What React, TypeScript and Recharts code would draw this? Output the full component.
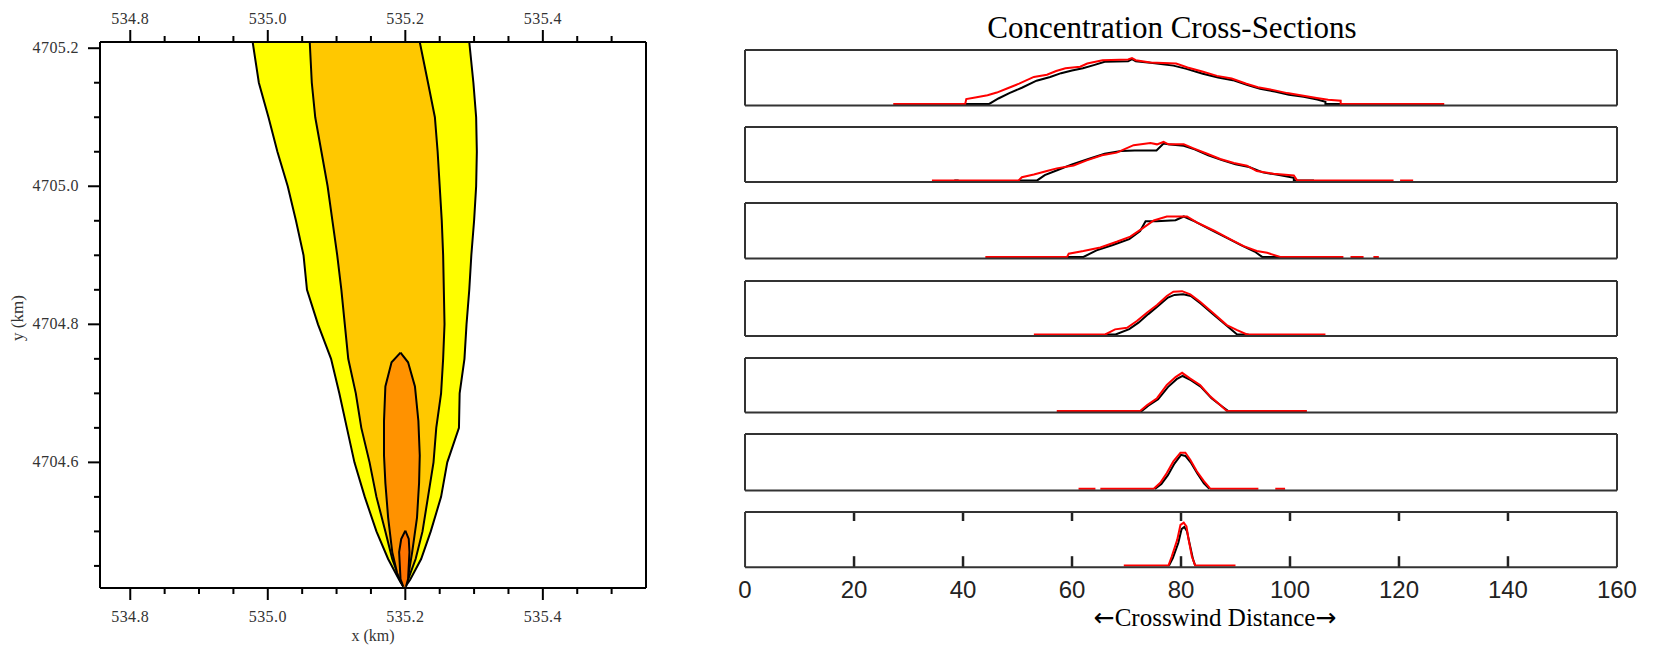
import React from 'react';
import { ComposedChart, Area, XAxis, YAxis, LineChart, Line, ReferenceLine } from 'recharts';

// ---------------- Left panel: plume concentration contours ----------------
const xDomainKm: [number, number] = [534.756, 535.55];
const yDomainKm: [number, number] = [4704.418, 4705.209];
const xMajorTicks = [534.8, 535.0, 535.2, 535.4];
const xMinorTicks = [534.85, 534.9, 534.95, 535.05, 535.1, 535.15, 535.25, 535.3, 535.35, 535.45, 535.5];
const yMajorTicks = [4704.6, 4704.8, 4705.0, 4705.2];
const yMinorTicks = [4704.45, 4704.5, 4704.55, 4704.65, 4704.7, 4704.75, 4704.85, 4704.9, 4704.95, 4705.05, 4705.1, 4705.15];

const plumeY = [4705.209, 4705.15, 4705.1, 4705.05, 4705.0, 4704.95, 4704.9, 4704.85, 4704.8, 4704.75, 4704.7, 4704.65, 4704.6, 4704.55, 4704.5, 4704.46, 4704.43, 4704.42];
const outerLeft = [534.978, 534.987, 535.001, 535.014, 535.029, 535.041, 535.052, 535.057, 535.073, 535.092, 535.104, 535.115, 535.126, 535.141, 535.158, 535.175, 535.191, 535.197];
const outerRight = [535.293, 535.299, 535.303, 535.304, 535.303, 535.3, 535.296, 535.293, 535.289, 535.286, 535.279, 535.278, 535.261, 535.252, 535.237, 535.223, 535.207, 535.2];
const midLeft = [535.061, 535.064, 535.069, 535.078, 535.087, 535.094, 535.101, 535.107, 535.112, 535.117, 535.128, 535.136, 535.148, 535.158, 535.171, 535.181, 535.192, 535.197];
const midRight = [535.221, 535.233, 535.243, 535.247, 535.25, 535.253, 535.255, 535.256, 535.257, 535.255, 535.252, 535.245, 535.241, 535.233, 535.225, 535.215, 535.204, 535.199];
const innerY = [4704.759, 4704.745, 4704.71, 4704.66, 4704.61, 4704.57, 4704.52, 4704.47, 4704.44, 4704.425];
const innerLeft = [535.193, 535.18, 535.171, 535.169, 535.169, 535.171, 535.175, 535.181, 535.188, 535.194];
const innerRight = [535.193, 535.204, 535.214, 535.219, 535.221, 535.22, 535.217, 535.21, 535.205, 535.202];
const coreY = [4704.501, 4704.489, 4704.47, 4704.431, 4704.42];
const coreLeft = [535.2, 535.194, 535.191, 535.193, 535.197];
const coreRight = [535.2, 535.205, 535.206, 535.204, 535.201];

const contourLevels = [
  { name: 'outer', ys: plumeY, left: outerLeft, right: outerRight, color: '#FFFF00' },
  { name: 'middle', ys: plumeY, left: midLeft, right: midRight, color: '#FFC800' },
  { name: 'inner', ys: innerY, left: innerLeft, right: innerRight, color: '#FF9200' },
  { name: 'core', ys: coreY, left: coreLeft, right: coreRight, color: '#FF7400' },
];

// ---------------- Right panels: concentration cross-sections ----------------
const crossTicks = [0, 20, 40, 60, 80, 100, 120, 140, 160];
const crossInnerTicks = [20, 40, 60, 80, 100, 120, 140];

type Pt = [number, number | null];
const p1Red: Pt[] = [[27.2, 0], [40.4, 0], [40.6, 0.09], [42.5, 0.125], [44.5, 0.16], [46.2, 0.21], [48.2, 0.29], [50.3, 0.375], [53.0, 0.5], [55.4, 0.54], [57.1, 0.61], [58.8, 0.66], [61.5, 0.69], [62.8, 0.75], [65.6, 0.81], [70.3, 0.825], [71.0, 0.85], [71.7, 0.81], [74.4, 0.77], [79.1, 0.75], [81.2, 0.675], [83.9, 0.6], [86.6, 0.52], [89.3, 0.47], [92.0, 0.375], [94.1, 0.31], [96.8, 0.26], [99.5, 0.2], [102.2, 0.156], [104.9, 0.11], [107.0, 0.075], [109.3, 0.06], [109.3, 0], [128.3, 0]];
const p1Black: Pt[] = [[40.4, 0], [44.8, 0], [46.5, 0.1], [48.5, 0.2], [50.8, 0.3], [53.5, 0.43], [56.0, 0.5], [58.0, 0.57], [60.0, 0.62], [62.0, 0.66], [64.0, 0.72], [66.0, 0.78], [70.3, 0.79], [71.0, 0.83], [71.7, 0.79], [74.8, 0.76], [78.6, 0.71], [81.0, 0.65], [84.0, 0.56], [86.8, 0.49], [89.5, 0.44], [92.2, 0.35], [94.5, 0.28], [97.2, 0.23], [99.8, 0.17], [102.5, 0.13], [105.0, 0.08], [106.5, 0.04], [106.5, 0], [109.3, 0]];
const p2Red: Pt[] = [[34.3, 0], [50.2, 0], [50.8, 0.06], [53.0, 0.11], [55.4, 0.175], [57.2, 0.225], [60.3, 0.28], [62.7, 0.375], [65.5, 0.47], [68.2, 0.52], [71.3, 0.66], [74.4, 0.7], [75.6, 0.675], [76.8, 0.72], [77.7, 0.675], [80.5, 0.675], [82.3, 0.6], [84.8, 0.5], [87.2, 0.4], [89.7, 0.325], [92.1, 0.275], [93.9, 0.175], [97.0, 0.125], [100.7, 0.094], [101.3, 0], [119.0, 0], [119.6, null], [120.2, 0], [122.6, 0]];
const p2Black: Pt[] = [[38.4, 0], [39.2, 0], [39.6, null], [50.2, 0], [53.6, 0], [55.0, 0.1], [57.5, 0.2], [60.0, 0.3], [63.0, 0.4], [66.0, 0.5], [69.0, 0.55], [71.5, 0.56], [75.5, 0.56], [76.8, 0.69], [78.0, 0.67], [80.5, 0.65], [82.5, 0.58], [85.0, 0.47], [87.5, 0.38], [90.0, 0.3], [92.5, 0.25], [95.0, 0.15], [98.0, 0.1], [100.7, 0.05], [100.7, 0], [104.4, 0]];
const p3Red: Pt[] = [[44.1, 0], [59.1, 0], [59.4, 0.06], [62.1, 0.11], [65.2, 0.175], [68.2, 0.28], [70.7, 0.375], [72.8, 0.52], [75.0, 0.675], [77.4, 0.75], [81.1, 0.75], [82.9, 0.64], [86.0, 0.49], [89.0, 0.33], [91.5, 0.2], [93.9, 0.11], [95.8, 0.075], [98.2, 0], [109.8, 0], [110.4, null], [111.1, 0], [113.5, 0], [114.4, null], [115.3, 0], [116.3, 0]];
const p3Black: Pt[] = [[59.1, 0], [62.1, 0], [64.5, 0.12], [67.5, 0.22], [70.5, 0.33], [72.5, 0.48], [73.5, 0.66], [75.5, 0.66], [79.0, 0.68], [80.5, 0.75], [82.5, 0.66], [85.5, 0.5], [88.5, 0.35], [91.0, 0.22], [93.5, 0.1], [94.9, 0], [98.2, 0]];
const p4Red: Pt[] = [[53.0, 0], [66.1, 0], [67.9, 0.094], [70.1, 0.125], [71.9, 0.25], [73.8, 0.41], [75.6, 0.55], [77.4, 0.72], [78.6, 0.8], [80.2, 0.81], [81.7, 0.75], [83.5, 0.61], [86.0, 0.39], [88.4, 0.175], [90.3, 0.08], [92.1, 0], [106.5, 0]];
const p4Black: Pt[] = [[66.1, 0], [68.0, 0], [70.5, 0.1], [72.2, 0.22], [74.0, 0.38], [75.8, 0.53], [77.6, 0.69], [78.8, 0.74], [80.4, 0.75], [81.8, 0.72], [83.6, 0.58], [86.0, 0.37], [88.4, 0.16], [90.3, 0], [92.4, 0]];
const p5Red: Pt[] = [[57.2, 0], [72.5, 0], [73.8, 0.11], [75.6, 0.24], [77.4, 0.49], [79.0, 0.64], [80.2, 0.72], [81.7, 0.61], [83.5, 0.49], [85.4, 0.27], [87.2, 0.11], [88.4, 0], [103.1, 0]];
const p5Black: Pt[] = [[72.3, 0], [72.8, 0], [74.0, 0.1], [75.8, 0.22], [77.6, 0.45], [79.2, 0.6], [80.3, 0.66], [81.8, 0.58], [83.6, 0.46], [85.6, 0.24], [87.6, 0.08], [88.6, 0]];
const p6Red: Pt[] = [[61.2, 0], [64.3, 0], [64.7, null], [65.2, 0], [75.0, 0], [76.2, 0.11], [77.4, 0.29], [78.6, 0.5], [79.9, 0.66], [80.8, 0.66], [81.7, 0.53], [82.9, 0.32], [84.2, 0.14], [85.4, 0], [94.2, 0], [95.7, null], [97.3, 0], [99.1, 0]];
const p6Black: Pt[] = [[75.2, 0], [76.4, 0.09], [77.6, 0.25], [78.8, 0.46], [80.0, 0.62], [80.8, 0.6], [81.8, 0.48], [83.0, 0.28], [84.2, 0.1], [85.2, 0]];
const p7Red: Pt[] = [[69.5, 0], [77.7, 0], [78.3, 0.17], [79.3, 0.48], [79.9, 0.76], [80.5, 0.8], [81.0, 0.73], [81.4, 0.48], [82.0, 0.17], [82.6, 0], [90.0, 0]];
const p7Black: Pt[] = [[77.8, 0], [78.5, 0.14], [79.5, 0.42], [80.1, 0.68], [80.6, 0.72], [81.1, 0.64], [81.6, 0.4], [82.2, 0.12], [82.6, 0]];

const panelSeries = [
  { red: p1Red, black: p1Black },
  { red: p2Red, black: p2Black },
  { red: p3Red, black: p3Black },
  { red: p4Red, black: p4Black },
  { red: p5Red, black: p5Black },
  { red: p6Red, black: p6Black },
  { red: p7Red, black: p7Black },
];

const panelTop = [49.5, 127, 203, 281, 357.5, 434, 511.5];
const panelBottom = [105, 182, 258.5, 336, 412, 490.5, 566.7];
const panelYDomain: [number, number] = [-0.03, 1];

const toPts = (arr: Pt[]) => arr.map(([x, y]) => ({ x, y }));
const isIn = (v: number, arr: number[]) => arr.some((m) => Math.abs(m - v) < 1e-6);

const serif = "'Liberation Serif', 'Times New Roman', serif";
const sans = "'Liberation Sans', Arial, sans-serif";

const MapTick = (props: any) => {
  const { x, y, payload, orient, majors } = props;
  const v = payload.value as number;
  const major = isIn(v, majors);
  const len = major ? 12 : 6;
  const label = v.toFixed(1);
  const ts = { fontFamily: serif, fontSize: 16, fill: '#333', letterSpacing: 0.4 };
  if (orient === 'left') {
    return (
      <g>
        <line x1={x} y1={y} x2={x - len} y2={y} stroke="#000" strokeWidth={2} />
        {major && <text x={x - 21} y={y} dy={5} textAnchor="end" {...ts}>{label}</text>}
      </g>
    );
  }
  if (orient === 'right') {
    return (
      <g>
        <line x1={x} y1={y} x2={x + len} y2={y} stroke="#000" strokeWidth={2} />
        {major && <text x={x + 21} y={y} dy={5} textAnchor="start" {...ts}>{label}</text>}
      </g>
    );
  }
  if (orient === 'top') {
    return (
      <g>
        <line x1={x} y1={y} x2={x} y2={y - len} stroke="#000" strokeWidth={2} />
        {major && <text x={x} y={y - 18} textAnchor="middle" {...ts}>{label}</text>}
      </g>
    );
  }
  return (
    <g>
      <line x1={x} y1={y} x2={x} y2={y + len} stroke="#000" strokeWidth={2} />
      {major && <text x={x} y={y + 34} textAnchor="middle" {...ts}>{label}</text>}
    </g>
  );
};

const CrossBottomTick = (props: any) => {
  const { x, y, payload } = props;
  return (
    <text x={x} y={y + 31} textAnchor="middle" fontFamily={sans} fontSize={24} fill="#222">{payload.value}</text>
  );
};

const mapAxisLine = { stroke: '#000', strokeWidth: 2 };
const panelAxisLine = { stroke: '#333', strokeWidth: 2 };

function PlumeMap() {
  const xTicks = [...xMajorTicks, ...xMinorTicks].sort((a, b) => a - b);
  const yTicks = [...yMajorTicks, ...yMinorTicks].sort((a, b) => a - b);
  return (
    <ComposedChart layout="vertical" width={720} height={647} margin={{ top: 14, right: 4, bottom: 19, left: 30 }}>
      <XAxis type="number" domain={xDomainKm} allowDataOverflow ticks={xTicks} interval={0} height={40} tickSize={0} tickMargin={0} tickLine={false} axisLine={mapAxisLine}
        tick={(p: any) => <MapTick {...p} orient="bottom" majors={xMajorTicks} />} />
      <XAxis xAxisId="top" orientation="top" type="number" domain={xDomainKm} allowDataOverflow ticks={xTicks} interval={0} height={28} tickSize={0} tickMargin={0} tickLine={false} axisLine={mapAxisLine}
        tick={(p: any) => <MapTick {...p} orient="top" majors={xMajorTicks} />} />
      <YAxis type="number" dataKey="y" reversed domain={yDomainKm} allowDataOverflow ticks={yTicks} interval={0} width={70} tickSize={0} tickMargin={0} tickLine={false} axisLine={mapAxisLine}
        tick={(p: any) => <MapTick {...p} orient="left" majors={yMajorTicks} />} />
      <YAxis yAxisId="right" orientation="right" type="number" reversed domain={yDomainKm} allowDataOverflow ticks={yTicks} interval={0} width={70} tickSize={0} tickMargin={0} tickLine={false} axisLine={mapAxisLine}
        tick={(p: any) => <MapTick {...p} orient="right" majors={yMajorTicks} />} />
      {contourLevels.map((c) => (
        <Area
          key={c.name}
          data={c.ys.map((y, i) => ({ y, r: [c.left[i], c.right[i]] }))}
          dataKey="r"
          type="linear"
          fill={c.color}
          fillOpacity={1}
          stroke="#000"
          strokeWidth={2}
          dot={false}
          activeDot={false}
          isAnimationActive={false}
        />
      ))}
    </ComposedChart>
  );
}

function CrossPanel({ index }: { index: number }) {
  const last = index === panelSeries.length - 1;
  const plotH = panelBottom[index] - panelTop[index];
  const bottomH = last ? 50 : 1;
  const s = panelSeries[index];
  const span = panelYDomain[1] - panelYDomain[0];
  const perPx = span / plotH;
  return (
    <div style={{ position: 'absolute', left: 735, top: panelTop[index] - 4 }}>
      <LineChart width={960} height={plotH + 8 + bottomH} margin={{ top: 3, right: 77, bottom: 4, left: 9 }}>
        <XAxis type="number" dataKey="x" domain={[0, 160]} allowDataOverflow ticks={crossTicks} interval={0} height={bottomH} tickSize={0} tickMargin={0} tickLine={false} axisLine={panelAxisLine}
          tick={last ? (p: any) => <CrossBottomTick {...p} /> : false} />
        <XAxis xAxisId="top" orientation="top" type="number" domain={[0, 160]} allowDataOverflow height={1} tick={false} tickLine={false} axisLine={panelAxisLine} />
        <YAxis type="number" domain={panelYDomain} allowDataOverflow width={1} tick={false} tickLine={false} axisLine={panelAxisLine} />
        <YAxis yAxisId="right" orientation="right" type="number" domain={panelYDomain} allowDataOverflow width={1} tick={false} tickLine={false} axisLine={panelAxisLine} />
        {last &&
          crossInnerTicks.map((t) => (
            <ReferenceLine
              key={`b${t}`}
              segment={[{ x: t, y: panelYDomain[0] }, { x: t, y: panelYDomain[0] + 11 * perPx }]}
              stroke="#222"
              strokeWidth={2.5}
              ifOverflow="visible"
            />
          ))}
        {last &&
          crossInnerTicks.map((t) => (
            <ReferenceLine
              key={`t${t}`}
              segment={[{ x: t, y: panelYDomain[1] }, { x: t, y: panelYDomain[1] - 9 * perPx }]}
              stroke="#222"
              strokeWidth={2.5}
              ifOverflow="visible"
            />
          ))}
        <Line data={toPts(s.black)} dataKey="y" type="linear" stroke="#000" strokeWidth={2} dot={false} activeDot={false} connectNulls={false} isAnimationActive={false} />
        <Line data={toPts(s.red)} dataKey="y" type="linear" stroke="#FF0000" strokeWidth={2} dot={false} activeDot={false} connectNulls={false} isAnimationActive={false} />
      </LineChart>
    </div>
  );
}

export default function App() {
  return (
    <div style={{ position: 'absolute', left: 0, top: 0, width: 1655, height: 647, background: '#fff', overflow: 'hidden' }}>
      <div style={{ position: 'absolute', left: 0, top: 0 }}>
        <PlumeMap />
      </div>
      {panelSeries.map((_, i) => (
        <CrossPanel key={i} index={i} />
      ))}
      <svg width={1655} height={647} style={{ position: 'absolute', left: 0, top: 0, pointerEvents: 'none' }}>
        <text x={1172} y={38} textAnchor="middle" fontFamily={serif} fontSize={31} fill="#000">
          Concentration Cross-Sections
        </text>
        <text x={1215} y={626} textAnchor="middle" fontFamily={serif} fontSize={25} fill="#000">
          <tspan fontFamily="'DejaVu Sans', sans-serif">←</tspan>Crosswind Distance<tspan fontFamily="'DejaVu Sans', sans-serif">→</tspan>
        </text>
        <text x={373} y={641} textAnchor="middle" fontFamily={serif} fontSize={16} fill="#333">
          x (km)
        </text>
        <text x={18} y={318} textAnchor="middle" fontFamily={serif} fontSize={17} fill="#333" transform="rotate(-90 18 318)" dy={5}>
          y (km)
        </text>
      </svg>
    </div>
  );
}
